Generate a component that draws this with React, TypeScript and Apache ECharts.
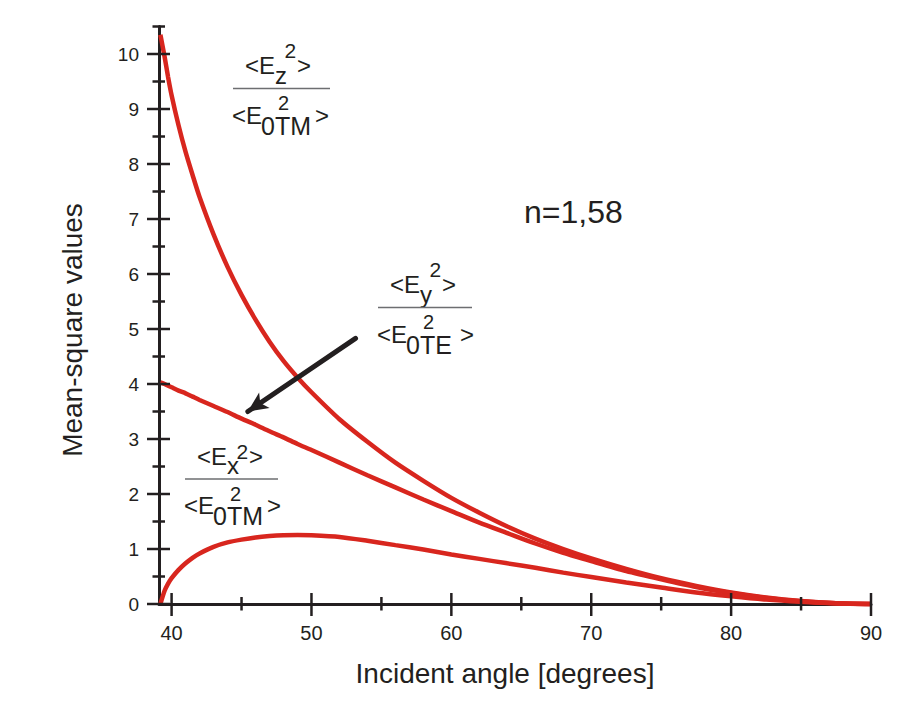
import React, { useEffect, useRef } from "react";
import * as echarts from "echarts";

// ---- data ----
const angles = [
  39.2, 39.5, 39.75, 40, 40.5, 41, 41.5, 42, 43, 44, 45, 46, 47, 48, 49, 50, 52, 54, 56, 58, 60, 62, 64, 66, 68,
  70, 72.5, 75, 77.5, 80, 82.5, 85, 87.5, 90,
];
const ezValues = [
  10.35, 9.95, 9.58, 9.25, 8.7, 8.22, 7.8, 7.4, 6.72, 6.13, 5.62, 5.17, 4.77, 4.42, 4.12, 3.85, 3.36, 2.95, 2.57,
  2.24, 1.93, 1.66, 1.41, 1.19, 1.0, 0.83, 0.64, 0.47, 0.33, 0.21, 0.12, 0.055, 0.015, 0,
];
const eyValues = [
  4.03, 4.0, 3.97, 3.94, 3.88, 3.83, 3.77, 3.71, 3.6, 3.49, 3.37, 3.26, 3.14, 3.03, 2.91, 2.8, 2.57, 2.34, 2.12,
  1.9, 1.69, 1.48, 1.29, 1.1, 0.93, 0.78, 0.6, 0.45, 0.31, 0.2, 0.11, 0.05, 0.012, 0,
];
const exValues = [
  0, 0.24, 0.37, 0.47, 0.62, 0.74, 0.84, 0.92, 1.04, 1.12, 1.17, 1.21, 1.235, 1.25, 1.255, 1.25, 1.22, 1.15, 1.07,
  0.99, 0.9, 0.82, 0.74, 0.66, 0.57, 0.49, 0.39, 0.3, 0.21, 0.14, 0.08, 0.04, 0.012, 0,
];

const xMajorTicks = [40, 50, 60, 70, 80, 90];
const xMinorTicks = [45, 55, 65, 75, 85];
const yMajorTicks = [0, 1, 2, 3, 4, 5, 6, 7, 8, 9, 10];
const yMinorTicks = [0.5, 1.5, 2.5, 3.5, 4.5, 5.5, 6.5, 7.5, 8.5, 9.5, 10.5];

const arrowTail = [53.15, 4.83];
const arrowTip = [45.45, 3.5];

const X_MIN = 39.1;
const X_MAX = 90;
const Y_MIN = 0;
const Y_MAX = 10.5;

const INK = "#231f20";
const RED = "#d8261e";
const FONT = '"Liberation Sans", Arial, Helvetica, sans-serif';

function txt(x: number, baseline: number, text: string, fs: number, align = "left") {
  return {
    type: "text",
    x,
    y: baseline - 0.35 * fs,
    silent: true,
    style: {
      text,
      fontSize: fs,
      fontFamily: FONT,
      fill: INK,
      align,
      textAlign: align,
      verticalAlign: "middle",
      textVerticalAlign: "middle",
    },
  };
}

function frac(L: number, Y: number, W: number, numSub: string, denSub: string, numSupRaise: number) {
  const fs = 24;
  return [
    txt(L + 12, Y - 14.5, "<E", fs),
    txt(L + 42, Y - 5, numSub, fs),
    txt(L + 51.5, Y - numSupRaise, "2", 21),
    txt(L + 64, Y - 14.5, ">", fs),
    {
      type: "line",
      silent: true,
      shape: { x1: L, y1: Y, x2: L + W, y2: Y },
      style: { stroke: "#6d6e71", lineWidth: 1.3 },
    },
    txt(L - 1, Y + 35, "<E", fs),
    txt(L + 28, Y + 46, denSub, 25),
    txt(L + 45, Y + 21.5, "2", 20),
    txt(L + 82, Y + 35, ">", fs),
  ];
}

// [x, y, kind]  kind: 0 x-major, 1 x-minor, 2 y-major, 3 y-minor
const tickData = [
  ...xMajorTicks.map((v) => [v, Y_MIN, 0]),
  ...xMinorTicks.map((v) => [v, Y_MIN, 1]),
  ...yMajorTicks.map((v) => [X_MIN, v, 2]),
  ...yMinorTicks.map((v) => [X_MIN, v, 3]),
];

export default function App() {
  const ref = useRef<HTMLDivElement>(null);

  useEffect(() => {
    if (!ref.current) return;
    const chart = echarts.init(ref.current, undefined, { renderer: "svg" });
    const mk = (vals: number[]) => angles.map((a, i) => [a, vals[i]]);
    const lineSeries = (name: string, vals: number[]) => ({
      name,
      type: "line",
      xAxisIndex: 0,
      yAxisIndex: 0,
      data: mk(vals),
      smooth: 0.25,
      symbol: "none",
      clip: false,
      z: 3,
      lineStyle: { color: RED, width: 4.5 },
      emphasis: { disabled: true },
    });
    const ey: any = lineSeries("Ey", eyValues);
    ey.markLine = {
      silent: true,
      symbol: ["none", "arrow"],
      symbolSize: [14, 20],
      label: { show: false },
      emphasis: { disabled: true },
      lineStyle: { color: INK, width: 5, type: "solid", cap: "round" },
      data: [[{ coord: arrowTail }, { coord: arrowTip }]],
    };

    const ticks = {
      type: "custom",
      coordinateSystem: "cartesian2d",
      xAxisIndex: 0,
      yAxisIndex: 0,
      silent: true,
      clip: false,
      z: 4,
      data: tickData,
      renderItem: (_params: any, api: any) => {
        const kind = api.value(2);
        const p = api.coord([api.value(0), api.value(1)]);
        let shape;
        if (kind === 0) shape = { x1: p[0], y1: p[1] + 12, x2: p[0], y2: p[1] - 11 };
        else if (kind === 1) shape = { x1: p[0], y1: p[1] + 6.5, x2: p[0], y2: p[1] - 7 };
        else if (kind === 2) shape = { x1: p[0] - 12, y1: p[1], x2: p[0] + 11, y2: p[1] };
        else shape = { x1: p[0] - 6.5, y1: p[1], x2: p[0] + 6, y2: p[1] };
        return { type: "line", shape, style: { stroke: INK, lineWidth: 2.5 } };
      },
    };

    const baseAxis = (isX: boolean, labels: number[]) => ({
      type: "value",
      position: isX ? "bottom" : "left",
      min: isX ? X_MIN : Y_MIN,
      max: isX ? X_MAX : Y_MAX,
      axisLine: { show: true, onZero: false, lineStyle: { color: INK, width: 3 } },
      axisTick: { show: false },
      axisLabel: {
        show: true,
        customValues: labels,
        color: INK,
        fontFamily: FONT,
        fontSize: isX ? 20 : 19,
        margin: isX ? 18.5 : 20,
      },
      splitLine: { show: false },
      minorTick: { show: false },
    });

    chart.setOption({
      animation: false,
      backgroundColor: "#ffffff",
      grid: { left: 159, right: 38, top: 26.5, bottom: 97, containLabel: false },
      xAxis: baseAxis(true, xMajorTicks),
      yAxis: baseAxis(false, yMajorTicks),
      series: [lineSeries("Ez", ezValues), ey, lineSeries("Ex", exValues), ticks],
      graphic: [
        ...frac(233, 88.5, 97, "z", "0TM", 31),
        ...frac(378, 307.5, 94, "y", "0TE", 31),
        ...frac(185, 479, 93, "x", "0TM", 20),
        txt(524, 223, "n=1,58", 32),
        txt(505, 683, "Incident angle [degrees]", 28, "center"),
        {
          type: "text",
          x: 72,
          y: 330,
          rotation: Math.PI / 2,
          silent: true,
          style: {
            text: "Mean-square values",
            fontSize: 28,
            fontFamily: FONT,
            fill: INK,
            align: "center",
            textAlign: "center",
            verticalAlign: "middle",
            textVerticalAlign: "middle",
          },
        },
      ],
    });
    return () => chart.dispose();
  }, []);

  return (
    <div
      ref={ref}
      style={{ position: "fixed", left: 0, top: 0, width: 909, height: 701, background: "#fff" }}
    />
  );
}
